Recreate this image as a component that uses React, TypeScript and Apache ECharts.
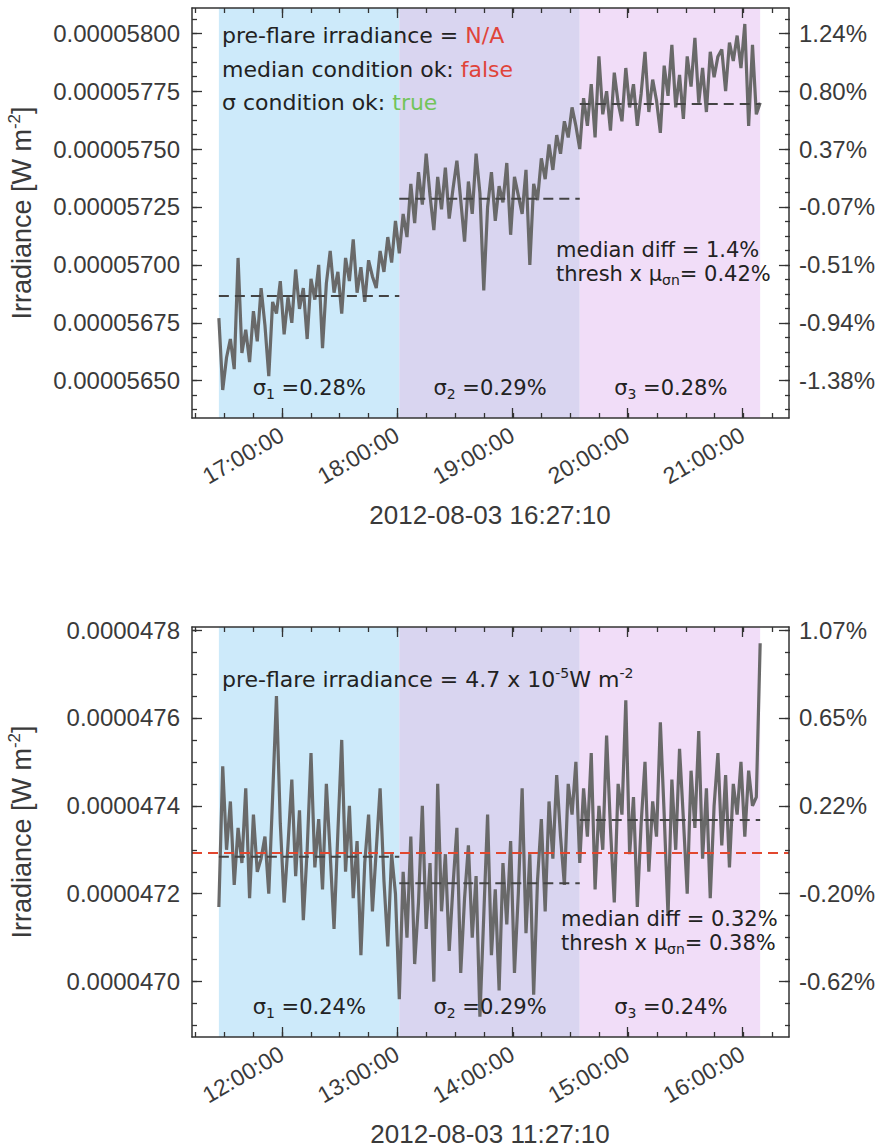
import React, { useEffect, useRef } from 'react';
import * as echarts from 'echarts';

// ---------- data (irradiance in units of 1e-8 W m^-2) ----------
const topTitle = '2012-08-03 16:27:10';
const botTitle = '2012-08-03 11:27:10';
const CADENCE_S = 120;

const topStart = '16:27:10';
const topIrr = [
  5677, 5646, 5660, 5668, 5655, 5703, 5662, 5672, 5658, 5680,
  5667, 5690, 5674, 5652, 5684, 5679, 5693, 5670, 5686, 5675,
  5698, 5681, 5690, 5668, 5694, 5685, 5700, 5664, 5692, 5706,
  5688, 5697, 5679, 5703, 5693, 5711, 5688, 5699, 5684, 5702,
  5695, 5690, 5706, 5697, 5712, 5701, 5719,
  5705, 5722, 5712, 5735, 5718, 5740, 5726, 5748, 5730, 5715,
  5738, 5724, 5742, 5720, 5733, 5745, 5728, 5710, 5736, 5722,
  5748, 5731, 5689, 5725, 5740, 5719, 5734, 5727, 5744, 5713,
  5738, 5730, 5722, 5741, 5700, 5735, 5728, 5746, 5737, 5752,
  5741, 5756, 5748, 5762, 5755, 5768, 5760,
  5750, 5772, 5760, 5778, 5755, 5790, 5765, 5775, 5758, 5783,
  5770, 5762, 5785, 5768, 5778, 5760, 5774, 5792, 5766, 5780,
  5771, 5757, 5786, 5773, 5795, 5768, 5782, 5763, 5790, 5777,
  5798, 5770, 5785, 5766, 5792, 5781, 5790, 5793, 5775, 5796,
  5788, 5799, 5785, 5804, 5760, 5795, 5765, 5770,
];
const topBands = ['16:27:10', '18:01:10', '19:35:10', '21:09:10'];
const topMedians = [5686.6, 5728.5, 5769.5];
const topSigmas = ['0.28%', '0.29%', '0.28%'];
const topXRange = ['16:13:10', '21:24:10'];
const topHours = ['17:00:00', '18:00:00', '19:00:00', '20:00:00', '21:00:00'];
const topYTicks = [5650, 5675, 5700, 5725, 5750, 5775, 5800];
const topYRange = [5633.9, 5810.9];
const topRef = 5729;
const topMedianDiff = '1.4%';
const topThresh = '0.42%';

const botStart = '11:27:10';
const botIrr = [
  4717, 4749, 4730, 4741, 4722, 4735, 4727, 4744, 4719, 4738,
  4725, 4728, 4733, 4720, 4742, 4765, 4736, 4718, 4731, 4746,
  4724, 4739, 4714, 4730, 4752, 4726, 4737, 4721, 4745, 4729,
  4712, 4734, 4755, 4725, 4740, 4719, 4732, 4706, 4727, 4738,
  4716, 4730, 4744, 4723, 4708, 4729, 4720,
  4696, 4725, 4710, 4733, 4704, 4718, 4740, 4712, 4727, 4700,
  4745, 4716, 4729, 4707, 4722, 4735, 4702, 4719, 4731, 4710,
  4724, 4692, 4715, 4738, 4706, 4721, 4698, 4727, 4713, 4732,
  4702, 4720, 4744, 4711, 4729, 4697, 4723, 4737, 4716, 4741,
  4728, 4747, 4733, 4722, 4745, 4738, 4750,
  4727, 4744, 4733, 4752, 4721, 4740, 4730, 4756, 4735, 4718,
  4745, 4738, 4764, 4729, 4742, 4717, 4736, 4750, 4725, 4741,
  4733, 4759, 4738, 4715, 4746, 4730, 4753, 4737, 4720, 4748,
  4735, 4757, 4728, 4744, 4719, 4740, 4752, 4731, 4747, 4726,
  4745, 4738, 4750, 4733, 4748, 4740, 4742, 4777,
];
const botBands = ['11:27:10', '13:01:10', '14:35:10', '16:09:10'];
const botMedians = [4728.4, 4722.4, 4736.8];
const botSigmas = ['0.24%', '0.29%', '0.24%'];
const botXRange = ['11:13:10', '16:24:10'];
const botHours = ['12:00:00', '13:00:00', '14:00:00', '15:00:00', '16:00:00'];
const botYTicks = [4700, 4720, 4740, 4760, 4780];
const botYRange = [4687.4, 4780.7];
const botRef = 4729.4;
const botPreFlare = 4729.4;
const botMedianDiff = '0.32%';
const botThresh = '0.38%';

const bandColors = ['#cdeafa', '#d9d5f0', '#f1ddf8'];

// ---------- helpers ----------
const AXFONT = 'Liberation Sans';
const TXFONT = 'DejaVu Sans';
const INK = '#3a3a3a';

function toSec(s: string) {
  const [h, m, x] = s.split(':').map(Number);
  return h * 3600 + m * 60 + x;
}
function fmtTime(v: number) {
  const h = Math.floor(v / 3600);
  const m = Math.floor((v % 3600) / 60);
  const s = Math.round(v % 60);
  return [h, m, s].map((n) => String(n).padStart(2, '0')).join(':');
}

type Panel = {
  title: string; start: string; irr: number[]; bands: string[]; medians: number[];
  sigmas: string[]; xRange: string[]; hours: string[]; yTicks: number[]; yRange: number[];
  yMinor: number; ref: number; decimals: number; medianDiff: string; thresh: string;
  preFlare: number | null; gridTop: number; diffX: number; diffY: number; preLineY: number;
};

const panels: Panel[] = [
  {
    title: topTitle, start: topStart, irr: topIrr, bands: topBands, medians: topMedians,
    sigmas: topSigmas, xRange: topXRange, hours: topHours, yTicks: topYTicks, yRange: topYRange,
    yMinor: 6.25, ref: topRef, decimals: 8, medianDiff: topMedianDiff, thresh: topThresh,
    preFlare: null, gridTop: 8, diffX: 556, diffY: 250, preLineY: 35,
  },
  {
    title: botTitle, start: botStart, irr: botIrr, bands: botBands, medians: botMedians,
    sigmas: botSigmas, xRange: botXRange, hours: botHours, yTicks: botYTicks, yRange: botYRange,
    yMinor: 5, ref: botRef, decimals: 7, medianDiff: botMedianDiff, thresh: botThresh,
    preFlare: botPreFlare, gridTop: 627, diffX: 561, diffY: 919, preLineY: 679,
  },
];

const GRID_LEFT = 192;
const GRID_W = 598;
const GRID_H = 410;

function buildOption() {
  const grid: any[] = [];
  const xAxis: any[] = [];
  const yAxis: any[] = [];
  const series: any[] = [];
  const graphics: any[] = [];

  const richT = { fontFamily: TXFONT, fontSize: 21, lineHeight: 26, fill: '#222' };
  const richSub = { fontFamily: TXFONT, fontSize: 14, lineHeight: 8, verticalAlign: 'bottom', fill: '#222' };

  panels.forEach((p, idx) => {
    const gA = idx * 2;
    const gB = idx * 2 + 1;
    for (let k = 0; k < 2; k++) {
      grid.push({ left: GRID_LEFT, top: p.gridTop, width: GRID_W, height: GRID_H, containLabel: false });
    }
    const xMin = toSec(p.xRange[0]);
    const xMax = toSec(p.xRange[1]);
    const hourVals = p.hours.map(toSec);
    const minorX: number[] = [];
    for (let t = Math.ceil(xMin / 900) * 900; t <= xMax; t += 900) minorX.push(t);
    const minorY: number[] = [];
    for (let v = Math.ceil(p.yRange[0] / p.yMinor) * p.yMinor; v <= p.yRange[1] + 1e-9; v += p.yMinor) minorY.push(v);

    const lineStyle = { color: '#333', width: 1.5 };
    const tickStyle = { color: '#333', width: 1.3 };
    const labelStyle = { fontFamily: AXFONT, fontSize: 24, color: INK };

    const xBase = { type: 'value', min: xMin, max: xMax, z: 10, splitLine: { show: false } };
    xAxis.push({
      ...xBase, gridIndex: gA, position: 'bottom',
      axisLine: { show: true, onZero: false, lineStyle },
      axisTick: { show: true, inside: true, length: 10, customValues: hourVals, lineStyle: tickStyle },
      axisLabel: { show: true, customValues: hourVals, formatter: (v: number) => fmtTime(v), rotate: 30, margin: 15, ...labelStyle, fontSize: 23 },
    });
    xAxis.push({
      ...xBase, gridIndex: gA, position: 'top',
      axisLine: { show: true, onZero: false, lineStyle },
      axisTick: { show: true, inside: true, length: 10, customValues: hourVals, lineStyle: tickStyle },
      axisLabel: { show: false },
    });
    xAxis.push({
      ...xBase, gridIndex: gB, position: 'bottom',
      axisLine: { show: false, onZero: false },
      axisTick: { show: true, inside: true, length: 5, customValues: minorX, lineStyle: tickStyle },
      axisLabel: { show: false },
    });
    xAxis.push({
      ...xBase, gridIndex: gB, position: 'top',
      axisLine: { show: false, onZero: false },
      axisTick: { show: true, inside: true, length: 5, customValues: minorX, lineStyle: tickStyle },
      axisLabel: { show: false },
    });

    const yBase = { type: 'value', min: p.yRange[0], max: p.yRange[1], z: 10, splitLine: { show: false }, scale: true };
    yAxis.push({
      ...yBase, gridIndex: gA, position: 'left',
      axisLine: { show: true, onZero: false, lineStyle },
      axisTick: { show: true, inside: true, length: 10, customValues: p.yTicks, lineStyle: tickStyle },
      axisLabel: { show: true, customValues: p.yTicks, margin: 12, formatter: (v: number) => (v * 1e-8).toFixed(p.decimals), ...labelStyle },
    });
    yAxis.push({
      ...yBase, gridIndex: gA, position: 'right',
      axisLine: { show: true, onZero: false, lineStyle },
      axisTick: { show: true, inside: true, length: 10, customValues: p.yTicks, lineStyle: tickStyle },
      axisLabel: { show: true, customValues: p.yTicks, margin: 10, formatter: (v: number) => (((v - p.ref) / p.ref) * 100).toFixed(2) + '%', ...labelStyle },
    });
    yAxis.push({
      ...yBase, gridIndex: gB, position: 'left',
      axisLine: { show: false, onZero: false },
      axisTick: { show: true, inside: true, length: 5, customValues: minorY, lineStyle: tickStyle },
      axisLabel: { show: false },
    });
    yAxis.push({
      ...yBase, gridIndex: gB, position: 'right',
      axisLine: { show: false, onZero: false },
      axisTick: { show: true, inside: true, length: 5, customValues: minorY, lineStyle: tickStyle },
      axisLabel: { show: false },
    });

    const xi = idx * 4;
    const yi = idx * 4;
    const t0 = toSec(p.start);
    const data = p.irr.map((v, i) => [t0 + i * CADENCE_S, v]);
    const bandSecs = p.bands.map(toSec);

    const mainSeries: any = {
      type: 'line', xAxisIndex: xi, yAxisIndex: yi, data, showSymbol: false, symbol: 'none',
      lineStyle: { color: '#696969', width: 3.2 }, z: 3, silent: true,
      markArea: {
        silent: true,
        data: [0, 1, 2].map((k) => [
          { xAxis: bandSecs[k], itemStyle: { color: bandColors[k], opacity: 1 } },
          { xAxis: bandSecs[k + 1] },
        ]),
      },
    };
    if (p.preFlare !== null) {
      mainSeries.markLine = {
        silent: true, symbol: ['none', 'none'], label: { show: false },
        lineStyle: { color: '#e2472f', type: [10, 6], width: 2 },
        data: [{ yAxis: p.preFlare }],
      };
    }
    series.push(mainSeries);
    p.medians.forEach((m, k) => {
      series.push({
        type: 'line', xAxisIndex: xi, yAxisIndex: yi, showSymbol: false, symbol: 'none', z: 4, silent: true,
        lineStyle: { color: '#444444', width: 2, type: [10, 6] },
        data: [[bandSecs[k], m], [bandSecs[k + 1], m]],
      });
    });

    // ----- texts -----
    const gt = p.gridTop;
    graphics.push({
      type: 'text', x: 22, y: gt + GRID_H / 2, rotation: Math.PI / 2,
      style: {
        text: '{a|Irradiance [W m}{u|-2}{a|]}', align: 'center', verticalAlign: 'middle',
        textAlign: 'center', textVerticalAlign: 'middle',
        rich: {
          a: { fontFamily: AXFONT, fontSize: 27, lineHeight: 32, fill: INK },
          u: { fontFamily: AXFONT, fontSize: 17, lineHeight: 12, verticalAlign: 'top', fill: INK },
        },
      },
    });
    graphics.push({
      type: 'text', x: GRID_LEFT + GRID_W / 2 - 1, y: gt + GRID_H + 97,
      style: {
        text: p.title, font: `26px "${AXFONT}"`, fill: INK, align: 'center', verticalAlign: 'middle',
        textAlign: 'center', textVerticalAlign: 'middle',
      },
    });
    p.sigmas.forEach((s, k) => {
      const xs = GRID_LEFT + ((bandSecs[k] + bandSecs[k + 1]) / 2 - xMin) / (xMax - xMin) * GRID_W;
      graphics.push({
        type: 'text', x: xs, y: gt + 380, z: 20,
        style: {
          text: `{t|σ}{s|${k + 1}}{t| =${s}}`, align: 'center', verticalAlign: 'middle',
          textAlign: 'center', textVerticalAlign: 'middle',
          rich: { t: richT, s: richSub },
        },
      });
    });
    graphics.push({
      type: 'text', x: p.diffX, y: p.diffY, z: 20,
      style: {
        text: `{t|median diff = ${p.medianDiff}}`, align: 'left', verticalAlign: 'middle',
        textAlign: 'left', textVerticalAlign: 'middle', rich: { t: richT },
      },
    });
    graphics.push({
      type: 'text', x: p.diffX, y: p.diffY + 24, z: 20,
      style: {
        text: `{t|thresh x μ}{s|σn}{t|= ${p.thresh}}`, align: 'left', verticalAlign: 'middle',
        textAlign: 'left', textVerticalAlign: 'middle',
        rich: { t: richT, s: richSub },
      },
    });
  });

  const rich = {
    t: { fontFamily: TXFONT, fontSize: 22, lineHeight: 26, fill: '#222' },
    r: { fontFamily: TXFONT, fontSize: 22, lineHeight: 26, fill: '#e0443a' },
    g: { fontFamily: TXFONT, fontSize: 22, lineHeight: 26, fill: '#72c45a' },
    u: { fontFamily: TXFONT, fontSize: 14, lineHeight: 10, verticalAlign: 'top', fill: '#222' },
  };
  const statusLines = [
    { y: panels[0].preLineY, text: '{t|pre-flare irradiance = }{r|N/A}' },
    { y: panels[0].preLineY + 34, text: '{t|median condition ok: }{r|false}' },
    { y: panels[0].preLineY + 67, text: '{t|σ condition ok: }{g|true}' },
    { y: panels[1].preLineY, text: '{t|pre-flare irradiance = 4.7 x 10}{u|-5}{t|W m}{u|-2}' },
  ];
  statusLines.forEach((l) => {
    graphics.push({
      type: 'text', x: 222, y: l.y, z: 20,
      style: { text: l.text, align: 'left', verticalAlign: 'middle', textAlign: 'left', textVerticalAlign: 'middle', rich },
    });
  });

  return {
    animation: false,
    backgroundColor: '#ffffff',
    grid, xAxis, yAxis, series,
    graphic: { elements: graphics },
  };
}

export default function App() {
  const ref = useRef<HTMLDivElement>(null);
  useEffect(() => {
    document.body.style.margin = '0';
    if (!ref.current) return;
    const chart = echarts.init(ref.current, null, { renderer: 'svg' });
    chart.setOption(buildOption() as any);
    return () => chart.dispose();
  }, []);
  return <div ref={ref} style={{ width: 878, height: 1148 }} />;
}
